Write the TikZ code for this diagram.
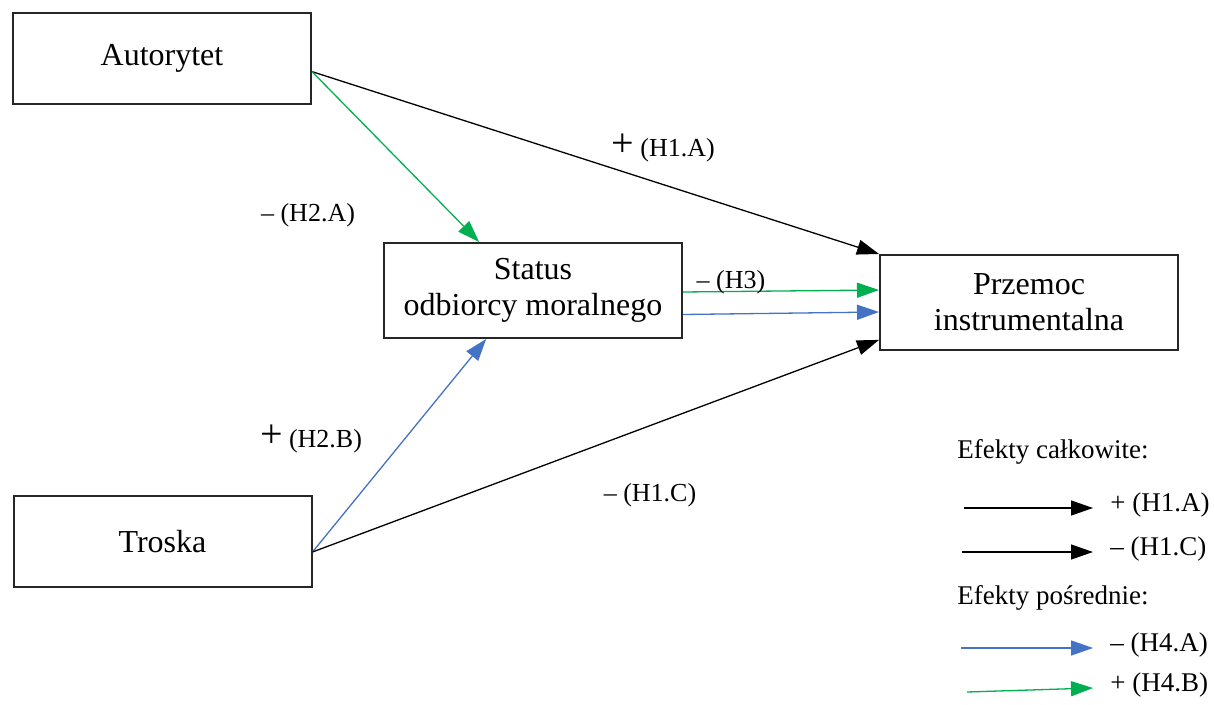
\documentclass[tikz,border=0pt]{standalone}
\usepackage{fontspec}
\setmainfont{Liberation Serif}
\usetikzlibrary{arrows.meta}
\definecolor{zielony}{RGB}{0,176,80}
\definecolor{niebieski}{RGB}{68,114,196}
\tikzset{
  box/.style={draw=black!85, line width=1pt, minimum width=149pt, inner sep=0pt, align=center, font=\fontsize{16}{18}\selectfont},
  arr/.style={line width=0.65pt, -{Triangle[length=11pt,width=7.5pt]}},
  lbl/.style={inner sep=0pt, font=\fontsize{13}{15}\selectfont},
  leg/.style={inner sep=0pt, anchor=west, font=\fontsize{13.5}{16}\selectfont},
}
\newcommand{\duzyplus}{{\fontsize{20}{20}\selectfont +}}

\begin{document}
\begin{tikzpicture}[x=0.5pt, y=-0.5pt]
	\useasboundingbox (0,0) rectangle (1214,705);
	% zmienne
	\node[box, minimum height=45.5pt] (A) at (162,58.5) {Autorytet};
	\node[box, minimum height=47.5pt] (S) at (533,290.5) {Status\\odbiorcy moralnego};
	\node[box, minimum height=47.5pt] (P) at (1029,302.5) {Przemoc\\instrumentalna};
	\node[box, minimum height=45.5pt] (T) at (162.5,541.5) {Troska};
	% sciezki
	\draw[arr] (A.-5) -- (P.north west);
	\draw[arr, zielony] (A.-5) -- (S.138);
	\draw[arr, zielony] ([yshift=-0.75pt]S.east) -- ([yshift=6.25pt]P.west);
	\draw[arr, niebieski] ([yshift=-12pt]S.east) -- ([yshift=-4.75pt]P.west);
	\draw[arr, niebieski] (T.-4) -- (S.226);
	\draw[arr] (T.-4) -- (P.194);
	% etykiety
	\node[lbl] (h1a) at (663,148) {\duzyplus\ (H1.A)};
	\node[lbl] (h2a) at (308,215) {– (H2.A)};
	\node[lbl] (h3) at (731,282) {– (H3)};
	\node[lbl] (h2b) at (311,439) {\duzyplus\ (H2.B)};
	\node[lbl] (h1c) at (650,495) {– (H1.C)};
	% legenda
	\node[leg] (calk) at (957,452) {Efekty całkowite:};
	\node[leg] (posr) at (957,598) {Efekty pośrednie:};
	\foreach \n/\xs/\ya/\yb/\kol/\opis in {1/964/508/508/black/{+ (H1.A)}, 2/962/552/552/black/{– (H1.C)}, 3/961/648/648/niebieski/{– (H4.A)}, 4/967/692/688/zielony/{+ (H4.B)}} {
		\coordinate (ks\n) at (\xs,\ya);
		\coordinate (ke\n) at (1093,\yb);
		\draw[arr, \kol] (ks\n) -- (ke\n);
		\node[leg] (op\n) at (1110,\yb-3) {\opis};
	}
\end{tikzpicture}
\end{document}
